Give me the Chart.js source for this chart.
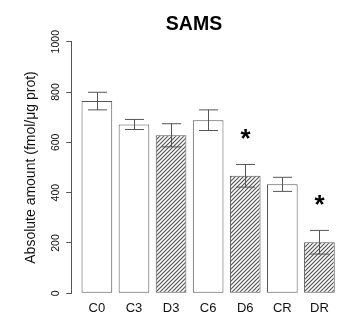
<!DOCTYPE html>
<html>
<head>
<meta charset="utf-8">
<script src="https://cdn.jsdelivr.net/npm/chart.js@4"></script>
<style>
  body { margin: 0; background: #fff; }
  #chart { display: block; }
</style>
</head>
<body>
<canvas id="chart" width="349" height="327"></canvas>
<script>
// data
const groups = ['C0', 'C3', 'D3', 'C6', 'D6', 'CR', 'DR'];
const amounts = [764, 671, 628, 688, 467, 433, 203];
const errors = [35, 20, 46, 41, 45, 28, 47];
const stars = ['', '', '', '', '*', '', '*'];
const yTicks = [0, 200, 400, 600, 800, 1000];

// diagonal hatch for the D groups
const tile = document.createElement('canvas');
tile.width = 4; tile.height = 4;
const t = tile.getContext('2d');
t.fillStyle = '#fff';
t.fillRect(0, 0, 4, 4);
t.strokeStyle = '#555';
t.lineWidth = 1.2;
t.beginPath();
t.moveTo(-1, 5); t.lineTo(5, -1);
t.moveTo(-1, 1); t.lineTo(1, -1);
t.moveTo(3, 5); t.lineTo(5, 3);
t.stroke();
const hatch = t.createPattern(tile, 'repeat');

// error bars + significance stars
const extras = {
  id: 'extras',
  afterDatasetsDraw(chart) {
    const ctx = chart.ctx;
    const xs = chart.scales.x, ys = chart.scales.y;
    const meta = chart.getDatasetMeta(0);
    ctx.save();
    ctx.strokeStyle = '#555';
    ctx.lineWidth = 1;
    amounts.forEach((v, i) => {
      const x = Math.round(xs.getPixelForValue(i)) + 0.5;
      const half = meta.data[i].width * 0.31;
      const top = ys.getPixelForValue(v + errors[i]);
      const bot = ys.getPixelForValue(v - errors[i]);
      ctx.beginPath();
      ctx.moveTo(x, top); ctx.lineTo(x, bot);
      ctx.moveTo(x - half, top); ctx.lineTo(x + half, top);
      ctx.moveTo(x - half, bot); ctx.lineTo(x + half, bot);
      ctx.stroke();
      if (stars[i]) {
        ctx.fillStyle = '#000';
        ctx.font = 'bold 26px "Liberation Sans", Arial, sans-serif';
        ctx.textAlign = 'center';
        ctx.textBaseline = 'middle';
        ctx.fillText(stars[i], x, ys.getPixelForValue(v + errors[i] + 120) + 6);
      }
    });
    ctx.restore();
  }
};

new Chart(document.getElementById('chart'), {
  type: 'bar',
  data: {
    datasets: [{
      data: amounts.map((v, i) => ({ x: i, y: v })),
      backgroundColor: groups.map(g => g[0] === 'D' ? hatch : '#fff'),
      borderColor: '#555',
      borderWidth: 1,
      borderSkipped: false,
      categoryPercentage: 1,
      barPercentage: 0.827
    }]
  },
  options: {
    responsive: false,
    animation: false,
    layout: { padding: { left: 43, right: 4, top: 0, bottom: 0 } },
    plugins: {
      legend: { display: false },
      tooltip: { enabled: false },
      title: {
        display: true,
        text: 'SAMS',
        color: '#000',
        font: { family: '"Liberation Sans", Arial, sans-serif', size: 19.5, weight: 'bold' },
        padding: { top: 13, bottom: 5.3 }
      }
    },
    scales: {
      x: {
        type: 'linear',
        offset: false,
        min: -0.69,
        max: 6.69,
        grid: { display: false, drawTicks: false, offset: false },
        border: { display: false },
        afterBuildTicks: s => { s.ticks = groups.map((g, i) => ({ value: i })); },
        afterFit: s => { s.height = 33.7; },
        ticks: {
          autoSkip: false,
          maxRotation: 0,
          padding: 7,
          color: '#111',
          font: { family: '"Liberation Sans", Arial, sans-serif', size: 13 },
          callback: v => groups[v]
        }
      },
      y: {
        min: 0,
        max: 1000,
        afterBuildTicks: s => { s.ticks = yTicks.map(v => ({ value: v })); },
        afterFit: s => { s.width = 28.3; },
        grid: { drawOnChartArea: false, drawTicks: true, tickLength: 5, color: '#555' },
        border: { display: true, color: '#555' },
        ticks: {
          minRotation: 90,
          maxRotation: 90,
          crossAlign: 'center',
          padding: -1,
          color: '#111',
          font: { family: '"Liberation Sans", Arial, sans-serif', size: 10.5 },
          callback: v => String(v)
        },
        title: {
          display: true,
          text: 'Absolute amount (fmol/\u03bcg prot)',
          color: '#111',
          font: { family: '"Liberation Sans", Arial, sans-serif', size: 14 },
          padding: { top: -19.9, bottom: 0 }
        }
      }
    }
  },
  plugins: [extras]
});
</script>
</body>
</html>
